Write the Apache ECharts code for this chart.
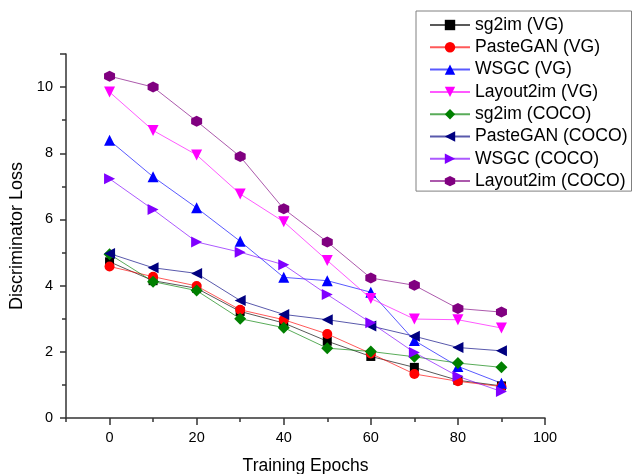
<!DOCTYPE html>
<html>
<head>
<meta charset="utf-8">
<script src="https://cdn.jsdelivr.net/npm/echarts@6/dist/echarts.min.js"></script>
<style>
  html, body { margin: 0; padding: 0; background: #fff; }
  #chart { width: 637px; height: 474px; }
</style>
</head>
<body>
<div id="chart"></div>
<script>
// Training epochs (x) shared by every run
const epochs = [0, 10, 20, 30, 40, 50, 60, 70, 80, 90];

// Discriminator loss per model / dataset
const sg2imVG        = [4.72, 4.15, 3.92, 3.22, 2.87, 2.32, 1.86, 1.53, 1.14, 0.97];
const pasteGanVG     = [4.58, 4.27, 3.99, 3.27, 2.97, 2.54, 1.95, 1.33, 1.11, 0.95];
const wsgcVG         = [8.39, 7.29, 6.35, 5.34, 4.25, 4.15, 3.80, 2.34, 1.56, 1.05];
const layout2imVG    = [9.85, 8.69, 7.95, 6.77, 5.93, 4.76, 3.61, 2.99, 2.97, 2.72];
const sg2imCOCO      = [4.95, 4.12, 3.85, 3.00, 2.73, 2.11, 2.01, 1.85, 1.66, 1.53];
const pasteGanCOCO   = [4.97, 4.54, 4.37, 3.55, 3.13, 2.97, 2.78, 2.47, 2.13, 2.03];
const wsgcCOCO       = [7.23, 6.30, 5.32, 5.01, 4.63, 3.73, 2.88, 1.98, 1.26, 0.80];
const layout2imCOCO  = [10.33, 10.00, 8.97, 7.90, 6.32, 5.32, 4.23, 4.01, 3.31, 3.20];

// Axis tick positions
const xLabelTicks = [0, 20, 40, 60, 80, 100];
const xMinorTicks = [-10, 10, 30, 50, 70, 90];

const FONT = '"Liberation Sans", Arial, sans-serif';
const hexagon = 'path://M0,-1L0.866,-0.5L0.866,0.5L0,1L-0.866,0.5L-0.866,-0.5Z';

function pairs(values) {
  return epochs.map((e, i) => [e, values[i]]);
}

function line(name, values, color, symbol, size, rotate) {
  return {
    name: name,
    type: 'line',
    data: pairs(values),
    symbol: symbol,
    symbolSize: size,
    symbolRotate: rotate || 0,
    showAllSymbol: true,
    animation: false,
    itemStyle: { color: color, opacity: 1 },
    lineStyle: { color: color, width: 1, opacity: 0.65 },
    emphasis: { disabled: true }
  };
}

const series = [
  line('sg2im (VG)',        sg2imVG,       '#000000', 'rect',     9),
  line('PasteGAN (VG)',     pasteGanVG,    '#ff0000', 'circle',  10),
  line('WSGC (VG)',         wsgcVG,        '#0000ff', 'triangle', 11),
  line('Layout2im (VG)',    layout2imVG,   '#ff00ff', 'triangle', 11, 180),
  line('sg2im (COCO)',      sg2imCOCO,     '#008000', 'diamond', 12),
  line('PasteGAN (COCO)',   pasteGanCOCO,  '#000080', 'triangle', 11, 90),
  line('WSGC (COCO)',       wsgcCOCO,      '#8000ff', 'triangle', 11, -90),
  line('Layout2im (COCO)',  layout2imCOCO, '#800080', hexagon,   11)
];

const chart = echarts.init(document.getElementById('chart'), null, { renderer: 'canvas' });

chart.setOption({
  backgroundColor: '#ffffff',
  animation: false,
  textStyle: { fontFamily: FONT },
  grid: { left: 66, right: 92, top: 54, bottom: 56, containLabel: false, outerBoundsMode: 'none' },
  legend: {
    orient: 'vertical',
    left: 416,
    top: 11,
    padding: [5, 4, 1, 13],
    itemWidth: 40,
    itemHeight: 13,
    itemGap: 4.3,
    borderColor: '#808080',
    borderWidth: 1,
    textStyle: { fontFamily: FONT, fontSize: 17.6, lineHeight: 18, color: '#000' },
    data: series.map(s => s.name)
  },
  xAxis: [
    {
      type: 'value',
      min: -10,
      max: 100,
      name: 'Training Epochs',
      nameLocation: 'middle',
      nameGap: 39,
      nameTextStyle: { fontFamily: FONT, fontSize: 17.5, color: '#000' },
      axisLine: { show: true, onZero: false, lineStyle: { color: '#333', width: 1.5 } },
      axisTick: { show: true, inside: false, length: 7, customValues: xLabelTicks, lineStyle: { color: '#333', width: 1.5 } },
      axisLabel: { customValues: xLabelTicks, margin: 12, fontFamily: FONT, fontSize: 14.5, color: '#000' },
      splitLine: { show: false }
    },
    {
      type: 'value',
      min: -10,
      max: 100,
      position: 'bottom',
      axisLine: { show: false, onZero: false },
      axisTick: { show: true, inside: false, length: 4, customValues: xMinorTicks, lineStyle: { color: '#333', width: 1.5 } },
      axisLabel: { show: false },
      splitLine: { show: false }
    }
  ],
  yAxis: {
    type: 'value',
    min: 0,
    max: 11,
    interval: 2,
    name: 'Discriminator Loss',
    nameLocation: 'middle',
    nameRotate: 90,
    nameGap: 39,
    nameTextStyle: { fontFamily: FONT, fontSize: 18, color: '#000' },
    axisLine: { show: true, onZero: false, lineStyle: { color: '#333', width: 1.5 } },
    axisTick: { show: true, inside: false, length: 6, lineStyle: { color: '#333', width: 1.5 } },
    minorTick: { show: true, splitNumber: 2, length: 4, lineStyle: { color: '#333', width: 1.5 } },
    axisLabel: { margin: 13, fontFamily: FONT, fontSize: 14.5, color: '#000', showMaxLabel: false },
    splitLine: { show: false },
    minorSplitLine: { show: false }
  },
  series: series
});
</script>
</body>
</html>
